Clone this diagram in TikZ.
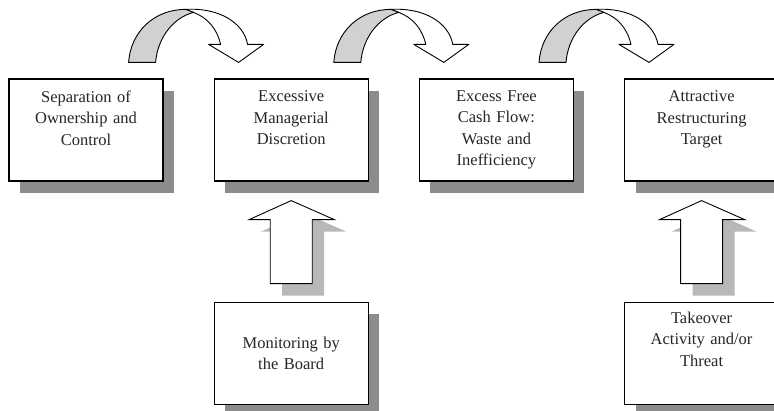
\documentclass[tikz,border=0pt]{standalone}
\usepackage{fontspec}
\setmainfont{Liberation Serif}
\usepackage{tikz}
\usetikzlibrary{positioning}
\usetikzlibrary{calc, shadows}
\tikzstyle{box} = [rectangle, minimum width=154pt, minimum height=102pt, draw=black, line width=1.2pt, fill=white, drop shadow={shadow xshift=11pt, shadow yshift=-12pt, fill=black!45, opacity=1}]
\tikzstyle{txt} = [text width=150pt, align=center, inner sep=0pt, font=\fontsize{16.5}{21.5}\selectfont, text=black!85]
\tikzstyle{bendarr} = [draw=black, line width=0.9pt, line join=round]
\tikzstyle{blk} = [draw=black, line width=0.9pt, line join=miter, fill=white]

% curved arrow over the top, from box #1 to box #2
\newcommand{\bendarrow}[2]{%
  \begin{scope}[shift={($(#1.north east)+(-35,-16)$)}]
    \filldraw[bendarr, fill=white] (57,-53) .. controls (90,-55) and (115,-40) .. (119,-18) -- (135,-18) -- ($(#2.north west)+(25,-16)$) -- (80,-18) -- (92,-18) .. controls (88,-35) and (78,-45) .. (65,-50) -- cycle;
    \filldraw[bendarr, fill=black!18] (0,0) .. controls (2,-30) and (25,-53) .. (57,-53) -- (65,-50) .. controls (45,-45) and (29,-25) .. (27,0) -- cycle;
  \end{scope}}

% block arrow going up, from box #1 to box #2
\newcommand{\blockup}[2]{%
  \begin{scope}[shift={($(#1.north)+(0,-18)$)}]
    \fill[black!28] (-9,12) -- (-9,-52) -- (-30,-52) -- (12,-71) -- (55,-52) -- (33,-52) -- (33,12) -- cycle;
    \filldraw[blk] (-21,0) -- (-21,-64) -- (-42,-64) -- ($(#2.south)+(0,19)$) -- (43,-64) -- (21,-64) -- (21,0) -- cycle;
  \end{scope}}

\begin{document}
\begin{tikzpicture}[x=1pt, y=-1pt]
    \useasboundingbox (0,0) rectangle (774,411);
    \node (sep) [box] at (86,130) {};
    \node (disc) [box, right = 50pt of sep] {};
    \node (fcf) [box, right = 50pt of disc] {};
    \node (target) [box, right = 50pt of fcf] {};
    \node (board) [box, below = 120pt of disc] {};
    \node (takeover) [box, below = 120pt of target] {};

    \node (septxt) [txt, below = 12pt of sep.north] {Separation of\\ Ownership and\\ Control};
    \node (disctxt) [txt, below = 12pt of disc.north] {Excessive\\ Managerial\\ Discretion};
    \node (fcftxt) [txt, below = 12pt of fcf.north] {Excess Free\\ Cash Flow:\\ Waste and\\ Inefficiency};
    \node (targettxt) [txt, below = 12pt of target.north] {Attractive\\ Restructuring\\ Target};
    \node (boardtxt) [txt] at (board) {Monitoring by\\ the Board};
    \node (takeovertxt) [txt, below = 10pt of takeover.north] {Takeover\\ Activity and/or\\ Threat};

    \bendarrow{sep}{disc}
    \bendarrow{disc}{fcf}
    \bendarrow{fcf}{target}
    \blockup{board}{disc}
    \blockup{takeover}{target}
\end{tikzpicture}
\end{document}
